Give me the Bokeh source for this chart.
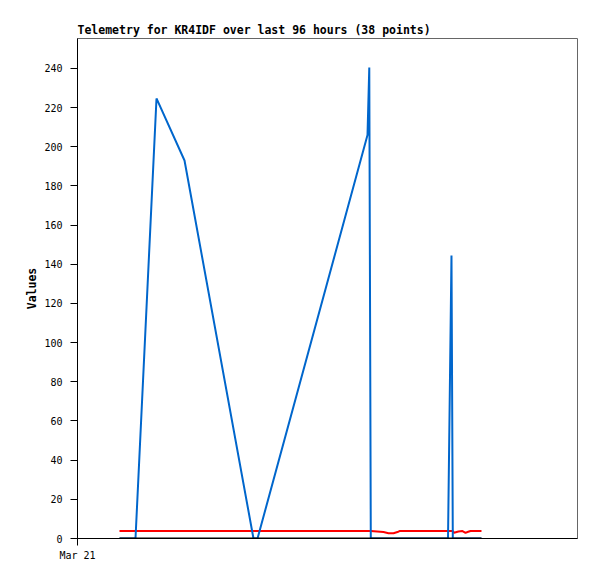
from bokeh.plotting import figure
from bokeh.models import Range1d, FixedTicker
from bokeh.embed import file_html
from bokeh.resources import INLINE

# Hours since Mar 21 00:00
hours = [11.14, 15.38, 20.95, 28.38, 46.67, 47.74, 76.91, 77.38, 77.78, 81.15,
         82.48, 83.80, 84.86, 85.39, 98.26, 99.18, 99.53, 99.85, 101.04, 102.10,
         102.90, 103.43, 104.22, 107.14]
blue_vals = [0, 0, 224.7, 193, 0, 0, 206, 240.5, 0, 0,
             0, 0, 0, 0, 0, 144.5, 0, 0, 0, 0,
             0, 0, 0, 0]
red_vals = [3.8, 3.8, 3.8, 3.8, 3.8, 3.8, 3.8, 3.8, 3.8, 3.3,
            2.7, 2.7, 3.3, 3.8, 3.8, 3.8, 3.8, 2.9, 3.6, 3.8,
            2.9, 3.3, 3.8, 3.8]
black_vals = [0] * len(hours)

y_ticks = [0, 20, 40, 60, 80, 100, 120, 140, 160, 180, 200, 220, 240]
x_ticks = [0]
x_labels = {0: "Mar 21"}

FONT = "DejaVu Sans Mono"

p = figure(frame_width=500, frame_height=500, output_backend="svg", toolbar_location=None,
           x_range=Range1d(0, 132.6), y_range=Range1d(0, 255.3),
           min_border_left=77, min_border_right=12, min_border_top=38, min_border_bottom=25,
           title="Telemetry for KR4IDF over last 96 hours (38 points)")

p.title.text_font = FONT
p.title.text_font_size = "11.5px"
p.title.text_font_style = "bold"
p.title.text_color = "black"
p.title.align = "left"
p.title.standoff = 3
p.title.offset = 0

p.xgrid.visible = False
p.ygrid.visible = False
p.outline_line_color = "#666666"
p.outline_line_width = 1
p.background_fill_color = "white"
p.border_fill_color = "white"

p.line(hours, red_vals, line_color="#ff0000", line_width=2)
p.line(hours, blue_vals, line_color="#0066cc", line_width=2)
p.line(hours, black_vals, line_color="#000000", line_width=2)

p.yaxis.ticker = FixedTicker(ticks=y_ticks)
p.yaxis.axis_label = "Values"
p.yaxis.axis_label_text_font = FONT
p.yaxis.axis_label_text_font_size = "11.5px"
p.yaxis.axis_label_text_font_style = "bold"
p.yaxis.axis_label_text_color = "black"
p.yaxis.axis_label_standoff = 2
p.yaxis.major_label_text_font = FONT
p.yaxis.major_label_text_font_size = "10px"
p.yaxis.major_label_text_color = "black"
p.yaxis.major_label_standoff = 8
p.yaxis.major_tick_out = 7
p.yaxis.major_tick_in = 0
p.yaxis.minor_tick_line_color = None
p.yaxis.axis_line_color = "black"

p.xaxis.ticker = FixedTicker(ticks=x_ticks)
p.xaxis.major_label_overrides = x_labels
p.xaxis.major_label_text_font = FONT
p.xaxis.major_label_text_font_size = "10px"
p.xaxis.major_label_text_color = "black"
p.xaxis.major_label_standoff = 4
p.xaxis.major_tick_out = 7
p.xaxis.major_tick_in = 0
p.xaxis.minor_tick_line_color = None
p.xaxis.axis_line_color = "black"

open("out.html", "w").write(file_html(p, INLINE))
